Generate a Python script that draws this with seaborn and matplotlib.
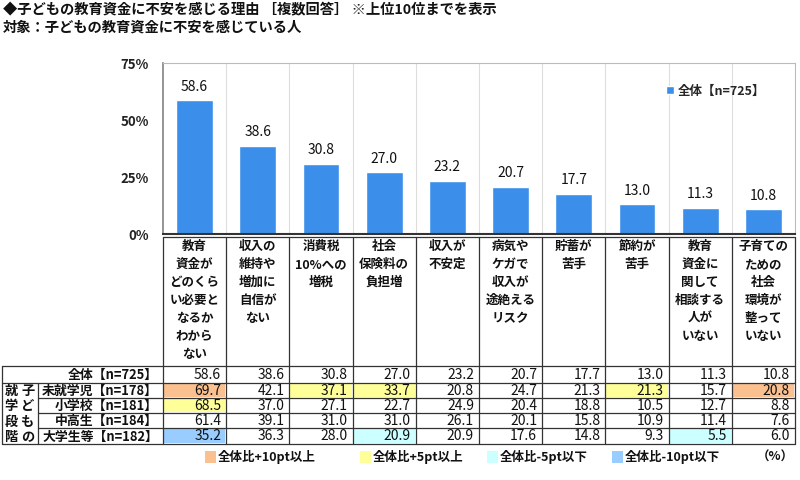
import matplotlib
matplotlib.use("Agg")
import matplotlib.pyplot as plt
from matplotlib.patches import Rectangle
import seaborn as sns
import pandas as pd

categories = ['教育\n資金が\nどのくら\nい必要と\nなるか\nわから\nない', '収入の\n維持や\n増加に\n自信が\nない',
              '消費税\n10%への\n増税', '社会\n保険料の\n負担増', '収入が\n不安定',
              '病気や\nケガで\n収入が\n途絶える\nリスク', '貯蓄が\n苦手', '節約が\n苦手',
              '教育\n資金に\n関して\n相談する\n人が\nいない', '子育ての\nための\n社会\n環境が\n整って\nいない']
total = [58.6, 38.6, 30.8, 27.0, 23.2, 20.7, 17.7, 13.0, 11.3, 10.8]
preschool = [69.7, 42.1, 37.1, 33.7, 20.8, 24.7, 21.3, 21.3, 15.7, 20.8]
elementary = [68.5, 37.0, 27.1, 22.7, 24.9, 20.4, 18.8, 10.5, 12.7, 8.8]
middle_high = [61.4, 39.1, 31.0, 31.0, 26.1, 20.1, 15.8, 10.9, 11.4, 7.6]
university = [35.2, 36.3, 28.0, 20.9, 20.9, 17.6, 14.8, 9.3, 5.5, 6.0]
row_labels = ['全体【n=725】', '未就学児【n=178】', '小学校【n=181】', '中高生【n=184】', '大学生等【n=182】']
group_label_a = '就学段階'
group_label_b = '子どもの'
legend_total = '全体【n=725】'
yticks = [0, 25, 50, 75]
ytick_labels = ['0%', '25%', '50%', '75%']
legend_items = ['全体比+10pt以上', '全体比+5pt以上', '全体比-5pt以下', '全体比-10pt以下']
title1 = '◆子どもの教育資金に不安を感じる理由 ［複数回答］ ※上位10位までを表示'
title2 = '対象：子どもの教育資金に不安を感じている人'

sns.set_theme(style="white")
plt.rcParams['font.family'] = ['Noto Sans CJK JP', 'DejaVu Sans']

BAR = '#3B8FEA'
C_P10, C_P5, C_M5, C_M10 = '#FAC090', '#FFFF99', '#CCFFFF', '#99CCFF'

W, H = 800, 480
fig = plt.figure(figsize=(8, 4.8), dpi=100)
XL, XR = 163, 795
YT, YB = 63, 234

def fx(px): return px / W
def fy(py): return 1 - py / H

ax = fig.add_axes([fx(XL), fy(YB), fx(XR - XL), (YB - YT) / H])
df = pd.DataFrame({'cat': [str(i) for i in range(len(total))], 'val': total})
sns.barplot(data=df, x='cat', y='val', color=BAR, width=0.58, ax=ax, saturation=1, label=legend_total)
ax.set_xlim(-0.5, len(total) - 0.5)
ax.set_ylim(0, 75)
ax.set_yticks(yticks)
ax.set_yticklabels(ytick_labels, fontsize=9.5, fontweight='bold', color='#222222')
ax.set_xticks([])
ax.set_xlabel('')
ax.set_ylabel('')
for i in range(1, len(total)):
    ax.axvline(i - 0.5, color='#DDDDDD', lw=0.8, zorder=0)
for s in ['top', 'right']:
    ax.spines[s].set_color('#BBBBBB')
    ax.spines[s].set_linewidth(0.8)
ax.spines['left'].set_color('#888888')
ax.spines['bottom'].set_color('#333333')
ax.spines['bottom'].set_linewidth(1.5)
ax.tick_params(axis='y', length=3, color='#888888', pad=10, direction='in')
for i, v in enumerate(total):
    ax.text(i, v + 3, f'{v:.1f}', ha='center', va='bottom', fontsize=10, color='#111111')
leg = ax.legend(loc='upper right', bbox_to_anchor=(0.97, 0.94), frameon=False,
                handlelength=0.6, handleheight=0.6, handletextpad=0.3, prop={'weight': 'bold', 'size': 9})

ov = fig.add_axes([0, 0, 1, 1])
ov.set_xlim(0, W)
ov.set_ylim(H, 0)
ov.axis('off')
ov.patch.set_alpha(0)

ov.text(3, 10, title1, fontsize=10.3, fontweight='bold', va='center', ha='left', color='#111111')
ov.text(3, 28, title2, fontsize=10.3, fontweight='bold', va='center', ha='left', color='#111111')

ncol = len(total)
cw = (XR - XL) / ncol
LT = 237
RT = [366, 383, 398, 413, 428, 444]
line_c = '#333333'

for i, lab in enumerate(categories):
    cx = XL + cw * (i + 0.5)
    ov.text(cx, LT + 3, lab, ha='center', va='top', fontsize=9, fontweight='bold',
            linespacing=1.5, color='#111111')
for i in range(ncol + 1):
    ov.plot([XL + cw * i] * 2, [LT, RT[-1]], color=line_c, lw=0.9)
ov.plot([XL, XR], [LT, LT], color=line_c, lw=0.9)

rows = [total, preschool, elementary, middle_high, university]

def cell_color(v, base):
    d = round(v - base, 1)
    if d >= 10: return C_P10
    if d >= 5: return C_P5
    if d <= -10: return C_M10
    if d <= -5: return C_M5
    return None

for r, vals in enumerate(rows):
    y0, y1 = RT[r], RT[r + 1]
    for i, v in enumerate(vals):
        x0 = XL + cw * i
        if r > 0:
            c = cell_color(v, total[i])
            if c:
                ov.add_patch(Rectangle((x0 + 1, y0 + 1), cw - 2, y1 - y0 - 2, color=c, lw=0, zorder=0))
        ov.text(x0 + cw - 5, (y0 + y1) / 2 + 0.5, f'{v:.1f}', ha='right', va='center', fontsize=10, color='#111111')
    ov.text(158, (y0 + y1) / 2 + 0.5, row_labels[r], ha='right', va='center', fontsize=9.3,
            fontweight='bold', color='#111111')

for y in RT:
    ov.plot([2 if y in (RT[0], RT[1], RT[-1]) else 38, XR], [y, y], color=line_c, lw=0.9)
ov.plot([2, 2], [RT[0], RT[-1]], color=line_c, lw=0.9)
ov.plot([38, 38], [RT[1], RT[-1]], color=line_c, lw=0.9)
for k, ch in enumerate(group_label_a):
    ov.text(11, RT[1] + 8 + k * 15.3, ch, ha='center', va='center', fontsize=9.5, fontweight='bold', color='#111111')
for k, ch in enumerate(group_label_b):
    ov.text(28, RT[1] + 8 + k * 15.3, ch, ha='center', va='center', fontsize=9.5, fontweight='bold', color='#111111')

lx = [205, 360, 487, 612]
for x, txt, c in zip(lx, legend_items, [C_P10, C_P5, C_M5, C_M10]):
    ov.add_patch(Rectangle((x, 451), 11, 12, color=c, lw=0))
    ov.text(x + 13, 457, txt, ha='left', va='center', fontsize=9, fontweight='bold', color='#111111')
ov.text(775, 457, '（%）', ha='center', va='center', fontsize=9, fontweight='bold', color='#111111')

fig.savefig('out.png', dpi=100)
